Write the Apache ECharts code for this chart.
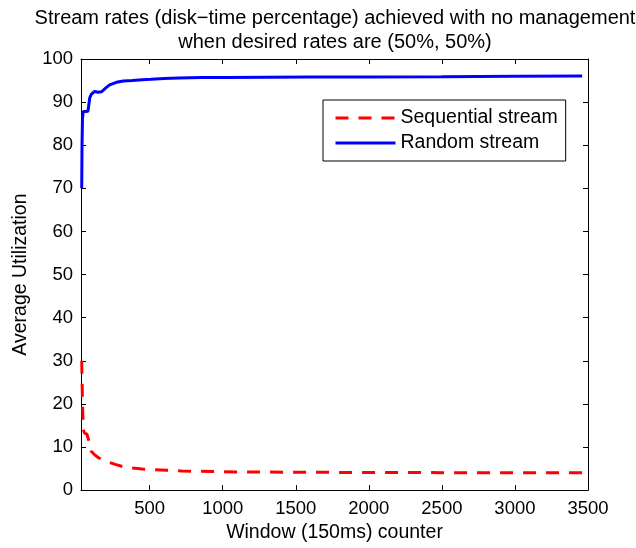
<!DOCTYPE html>
<html>
<head>
<meta charset="utf-8">
<script src="https://cdn.jsdelivr.net/npm/echarts@6/dist/echarts.min.js"></script>
<style>
  html, body { margin: 0; padding: 0; background: #fff; }
  #chart { width: 636px; height: 548px; }
</style>
</head>
<body>
<div id="chart"></div>
<script>
// Window counter positions and average utilization (%) per stream
const seqX = [35, 38, 42, 46, 55, 70, 80, 88, 100, 120, 150, 185, 225, 270, 320, 380, 450, 530, 620, 720, 850, 1000, 1200, 1500, 1800, 2100, 2500, 2900, 3200, 3460];
const seqY = [30, 24, 18, 14, 13.2, 13, 12.8, 11, 9.0, 8.3, 7.5, 7.0, 6.4, 5.9, 5.4, 5.1, 4.9, 4.7, 4.6, 4.45, 4.35, 4.25, 4.2, 4.15, 4.1, 4.1, 4.05, 4.0, 4.0, 4.0];

const rndX = [35, 37, 40, 45, 60, 78, 84, 90, 100, 123, 145, 170, 200, 226, 272, 320, 380, 450, 510, 600, 700, 850, 1030, 1300, 1600, 2000, 2500, 3000, 3460];
const rndY = [70, 80, 86, 87.8, 87.8, 87.9, 89.5, 91, 91.8, 92.5, 92.3, 92.4, 93.3, 94, 94.6, 94.9, 95.0, 95.2, 95.3, 95.5, 95.6, 95.7, 95.7, 95.75, 95.8, 95.85, 95.9, 96.0, 96.05];

const xTicks = [500, 1000, 1500, 2000, 2500, 3000, 3500];
const seriesNames = ['Sequential stream', 'Random stream'];

const FONT = '"Liberation Sans", Arial, Helvetica, sans-serif';
const zip = (xs, ys) => xs.map((x, i) => [x, ys[i]]);

const chart = echarts.init(document.getElementById('chart'), null, { renderer: 'canvas' });

const tickStyle = { inside: true, length: 5, lineStyle: { color: '#000', width: 1 } };
const lineStyle = { show: true, onZero: false, lineStyle: { color: '#000', width: 1 } };
const tickLabel = { color: '#000', fontSize: 18.5, fontFamily: FONT };
const nameLabel = { color: '#000', fontSize: 19.5, fontFamily: FONT };

chart.setOption({
  animation: false,
  backgroundColor: '#fff',
  title: {
    text: 'Stream rates (disk\u2212time percentage) achieved with no management\nwhen desired rates are (50%, 50%)',
    left: 330,
    textAlign: 'center',
    top: 1,
    textStyle: { color: '#000', fontSize: 20, fontWeight: 'normal', fontFamily: FONT, lineHeight: 24 }
  },
  grid: { left: 81, right: 48, top: 59, bottom: 54 },
  legend: {
    orient: 'vertical',
    left: 323,
    top: 100,
    padding: [8, 8, 8, 11],
    itemWidth: 60,
    itemHeight: 14,
    itemGap: 5,
    borderColor: '#000',
    borderWidth: 1,
    backgroundColor: '#fff',
    itemStyle: { opacity: 0 },
    lineStyle: { width: 3 },
    textStyle: { color: '#000', fontSize: 19.5, fontFamily: FONT },
    data: seriesNames
  },
  xAxis: [
    {
      type: 'value', min: 30, max: 3500, position: 'bottom',
      name: 'Window (150ms) counter', nameLocation: 'middle', nameGap: 32,
      nameTextStyle: nameLabel,
      axisLine: lineStyle,
      axisTick: Object.assign({ customValues: xTicks }, tickStyle),
      axisLabel: Object.assign({ customValues: xTicks, margin: 9, formatter: v => String(v) }, tickLabel),
      splitLine: { show: false }
    },
    {
      type: 'value', min: 30, max: 3500, position: 'top',
      axisLine: lineStyle,
      axisTick: Object.assign({ customValues: xTicks }, tickStyle),
      axisLabel: { show: false },
      splitLine: { show: false }
    }
  ],
  yAxis: [
    {
      type: 'value', min: 0, max: 100, interval: 10, position: 'left',
      name: 'Average Utilization', nameLocation: 'middle', nameGap: 50,
      nameTextStyle: nameLabel,
      axisLine: lineStyle,
      axisTick: tickStyle,
      axisLabel: Object.assign({ margin: 8 }, tickLabel),
      splitLine: { show: false }
    },
    {
      type: 'value', min: 0, max: 100, interval: 10, position: 'right',
      axisLine: lineStyle,
      axisTick: tickStyle,
      axisLabel: { show: false },
      splitLine: { show: false }
    }
  ],
  series: [
    {
      name: seriesNames[0], type: 'line', xAxisIndex: 0, yAxisIndex: 0,
      data: zip(seqX, seqY), symbol: 'none', showSymbol: false,
      lineStyle: { color: '#ff0000', width: 3, type: [13, 10] },
      itemStyle: { color: '#ff0000' }
    },
    {
      name: seriesNames[1], type: 'line', xAxisIndex: 0, yAxisIndex: 0,
      data: zip(rndX, rndY), symbol: 'none', showSymbol: false,
      lineStyle: { color: '#0000ff', width: 3 },
      itemStyle: { color: '#0000ff' }
    }
  ]
});
</script>
</body>
</html>
